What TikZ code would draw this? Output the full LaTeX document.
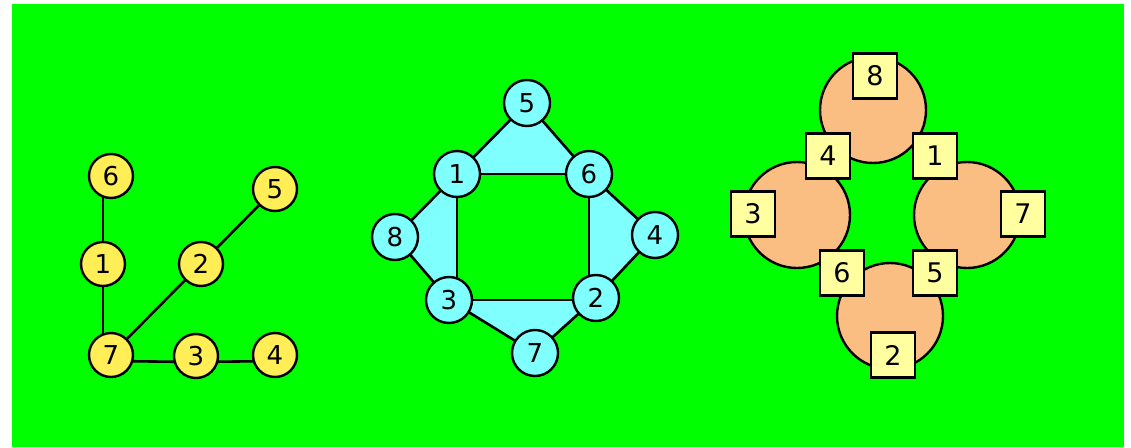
\documentclass[tikz,border=0pt]{standalone}
\usepackage{fontspec}
\setmainfont{DejaVu Sans}
\definecolor{bggreen}{RGB}{0,255,0}
\definecolor{nodeyellow}{RGB}{255,238,85}
\definecolor{cyanfill}{RGB}{128,255,255}
\definecolor{peach}{RGB}{250,190,130}
\definecolor{boxyellow}{RGB}{255,255,160}
\pgfdeclarelayer{bg}
\pgfdeclarelayer{edges}
\pgfsetlayers{bg,edges,main}
\tikzset{
  edge/.style={draw=black, line width=2.6pt},
  ynode/.style={circle, draw=black, line width=2.4pt, fill=nodeyellow, minimum size=44pt, inner sep=0pt, font=\fontsize{26}{26}\selectfont},
  cnode/.style={circle, draw=black, line width=2.4pt, fill=cyanfill, minimum size=46pt, inner sep=0pt, font=\fontsize{26}{26}\selectfont},
  hedge/.style={circle, draw=black, line width=2.4pt, fill=peach, minimum size=106pt, inner sep=0pt},
  vbox/.style={rectangle, draw=black, line width=2.4pt, fill=boxyellow, minimum width=44pt, minimum height=45pt, inner sep=0pt, font=\fontsize{27}{27}\selectfont},
}
\begin{document}
\begin{tikzpicture}[x=1pt,y=-1pt]
\useasboundingbox (0,0) rectangle (1131,447);
\begin{pgfonlayer}{bg}
\fill[white] (0,0) rectangle (1131,447);
\fill[bggreen] (12,4) rectangle (1124,447);
\end{pgfonlayer}

% ---- left graph ----
\node[ynode] (l6) at (111,176) {6};
\node[ynode] (l1) at (103,264) {1};
\node[ynode] (l7) at (111,355) {7};
\node[ynode] (l3) at (196,356) {3};
\node[ynode] (l4) at (275,355) {4};
\node[ynode] (l2) at (201,264) {2};
\node[ynode] (l5) at (275,189) {5};
\begin{pgfonlayer}{edges}
\draw[edge] (l1.center) -- (l1 |- l6);
\draw[edge] (l1.center) -- (l1 |- l7);
\draw[edge] ([yshift=-6pt]l7.center) -- ([yshift=-6pt]l3.center);
\draw[edge] ([yshift=-6pt]l3.center) -- ([yshift=-6pt]l4.center);
\draw[edge] (l7.center) -- (l2.center);
\draw[edge] (l2.center) -- (l5.center);
\end{pgfonlayer}

% ---- middle graph ----
\node[cnode] (m5) at (527,103) {5};
\node[cnode] (m1) at (457,174) {1};
\node[cnode] (m6) at (589,174) {6};
\node[cnode] (m8) at (395,237) {8};
\node[cnode] (m4) at (655,235) {4};
\node[cnode] (m3) at (449,300) {3};
\node[cnode] (m2) at (596,298) {2};
\node[cnode] (m7) at (535,353) {7};
\begin{pgfonlayer}{edges}
\fill[cyanfill] (m1.center) -- (m5.center) -- (m6.center) -- cycle;
\fill[cyanfill] (m1.center) -- (m8.center) -- (m3.center) -- (m1 |- m3) -- cycle;
\fill[cyanfill] (m6.center) -- (m4.center) -- (m2.center) -- (m6 |- m3) -- cycle;
\fill[cyanfill] (m1 |- m3) -- (m3.center) -- (m7.center) -- (m2.center) -- (m6 |- m3) -- cycle;
\draw[edge] (m1.center) -- (m6.center);
\draw[edge] (m1.center) -- (m1 |- m3);
\draw[edge] (m6.center) -- (m6 |- m3);
\draw[edge] (m3.center) -- (m2.center |- m3.center);
\draw[edge] (m1.center) -- (m5.center);
\draw[edge] (m5.center) -- (m6.center);
\draw[edge] (m1.center) -- (m8.center);
\draw[edge] (m8.center) -- (m3.center);
\draw[edge] (m6.center) -- (m4.center);
\draw[edge] (m4.center) -- (m2.center);
\draw[edge] (m3.center) -- (m7.center);
\draw[edge] (m7.center) -- (m2.center);
\end{pgfonlayer}

% ---- right hypergraph ----
\node[hedge] (hTop) at (873,110) {};
\node[hedge] (hLeft) at (797,215) {};
\node[hedge] (hRight) at (967,215) {};
\node[hedge] (hBottom) at (890,316) {};
\node[vbox] (r8) at (875,76) {8};
\node[vbox] (r4) at (828,156) {4};
\node[vbox] (r1) at (935,156) {1};
\node[vbox] (r3) at (753,214) {3};
\node[vbox] (r7) at (1023,214) {7};
\node[vbox] (r6) at (842,273) {6};
\node[vbox] (r5) at (935,273) {5};
\node[vbox] (r2) at (893,355) {2};
\end{tikzpicture}
\end{document}
